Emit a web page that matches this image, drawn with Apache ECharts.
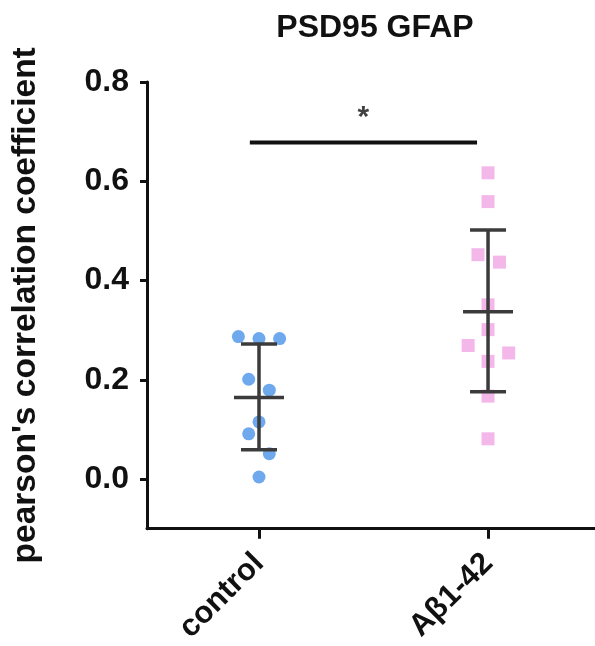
<!DOCTYPE html>
<html>
<head>
<meta charset="utf-8">
<script src="https://cdn.jsdelivr.net/npm/echarts@6/dist/echarts.min.js"></script>
<style>
  html, body { margin: 0; padding: 0; background: #fff; }
  #psdChart { width: 595px; height: 646px; }
</style>
</head>
<body>
<div id="psdChart"></div>
<script>
// groups
var groupNames = ['control', 'Aβ1-42'];
var yTicks = [0, 0.2, 0.4, 0.6, 0.8];

// control points (value + horizontal jitter in group units)
var controlVals = [0.287, 0.283, 0.283, 0.201, 0.179, 0.115, 0.091, 0.051, 0.004];
var controlJitter = [-0.09, 0, 0.09, -0.045, 0.045, 0, -0.045, 0.045, 0];

// Aβ1-42 points
var abVals = [0.617, 0.559, 0.452, 0.437, 0.351, 0.301, 0.269, 0.254, 0.237, 0.167, 0.081];
var abJitter = [0, 0, -0.044, 0.05, 0, 0, -0.087, 0.09, 0, 0, 0];

// mean +/- sd
var means = [0.164, 0.337];
var lowers = [0.059, 0.176];
var uppers = [0.272, 0.502];

// significance bar
var sigFrom = -0.04, sigTo = 0.952, sigLevel = 0.678, sigText = '*';

var font = "'Liberation Sans', Arial, sans-serif";

function toPoints(vals, jitter, group) {
    var out = [];
    for (var i = 0; i < vals.length; i++) {
        out.push([group + jitter[i], vals[i]]);
    }
    return out;
}

var barData = [];
for (var g = 0; g < means.length; g++) {
    barData.push([g, means[g], lowers[g], uppers[g]]);
}

var psdChart = echarts.init(document.getElementById('psdChart'));

var psdChartOption = {
    animation: false,
    backgroundColor: '#fff',
    title: {
        text: 'PSD95 GFAP',
        left: 370,
        top: 7,
        textAlign: 'center',
        textStyle: { fontFamily: font, fontSize: 32, fontWeight: 'bold', color: '#111' }
    },
    grid: { left: 147, right: 0, top: 82, bottom: 114 },
    xAxis: {
        type: 'value',
        min: -0.489,
        max: 1.467,
        splitLine: { show: false },
        axisLine: { onZero: false, lineStyle: { color: '#111', width: 3 } },
        axisTick: { customValues: [0, 1], length: 10, lineStyle: { color: '#111', width: 3 } },
        axisLabel: {
            customValues: [0, 1],
            rotate: 45,
            margin: 30,
            fontFamily: font,
            fontSize: 31,
            fontWeight: 'bold',
            color: '#111',
            formatter: function (v) { return groupNames[Math.round(v)]; }
        }
    },
    yAxis: {
        type: 'value',
        min: -0.1,
        max: 0.8,
        name: "pearson's correlation coefficient",
        nameLocation: 'middle',
        nameGap: 104,
        nameTextStyle: { fontFamily: font, fontSize: 33.5, fontWeight: 'bold', color: '#111' },
        splitLine: { show: false },
        axisLine: { show: true, onZero: false, lineStyle: { color: '#111', width: 3 } },
        axisTick: { show: true, customValues: yTicks, length: 7, lineStyle: { color: '#111', width: 3 } },
        axisLabel: {
            customValues: yTicks,
            margin: 18,
            fontFamily: font,
            fontSize: 32,
            fontWeight: 'bold',
            color: '#111',
            formatter: function (v) { return v.toFixed(1); }
        }
    },
    series: [
        {
            type: 'scatter',
            symbol: 'circle',
            symbolSize: 13,
            itemStyle: { color: '#4a92e8' },
            data: toPoints(controlVals, controlJitter, 0)
        },
        {
            type: 'scatter',
            symbol: 'rect',
            symbolSize: 13,
            itemStyle: { color: '#f0a6e4' },
            data: toPoints(abVals, abJitter, 1)
        },
        {
            type: 'custom',
            z: 5,
            renderItem: function (params, api) {
                var x = api.value(0);
                var m = api.coord([x, api.value(1)]);
                var lo = api.coord([x, api.value(2)]);
                var hi = api.coord([x, api.value(3)]);
                var st = { stroke: '#3b3b3b', lineWidth: 3.5 };
                return {
                    type: 'group',
                    children: [
                        { type: 'line', shape: { x1: lo[0], y1: lo[1], x2: hi[0], y2: hi[1] }, style: st },
                        { type: 'line', shape: { x1: hi[0] - 18, y1: hi[1], x2: hi[0] + 18, y2: hi[1] }, style: st },
                        { type: 'line', shape: { x1: lo[0] - 18, y1: lo[1], x2: lo[0] + 18, y2: lo[1] }, style: st },
                        { type: 'line', shape: { x1: m[0] - 25, y1: m[1], x2: m[0] + 25, y2: m[1] }, style: st }
                    ]
                };
            },
            data: barData
        },
        {
            type: 'line',
            symbol: 'none',
            lineStyle: { color: '#111', width: 4 },
            data: [[sigFrom, sigLevel], [sigTo, sigLevel]]
        },
        {
            type: 'scatter',
            symbolSize: 0,
            label: {
                show: true,
                position: 'top',
                distance: 10,
                formatter: sigText,
                fontFamily: font,
                fontSize: 30,
                fontWeight: 'bold',
                color: '#111'
            },
            data: [[(sigFrom + sigTo) / 2, sigLevel]]
        }
    ]
};
psdChart.setOption(psdChartOption);
</script>
</body>
</html>
